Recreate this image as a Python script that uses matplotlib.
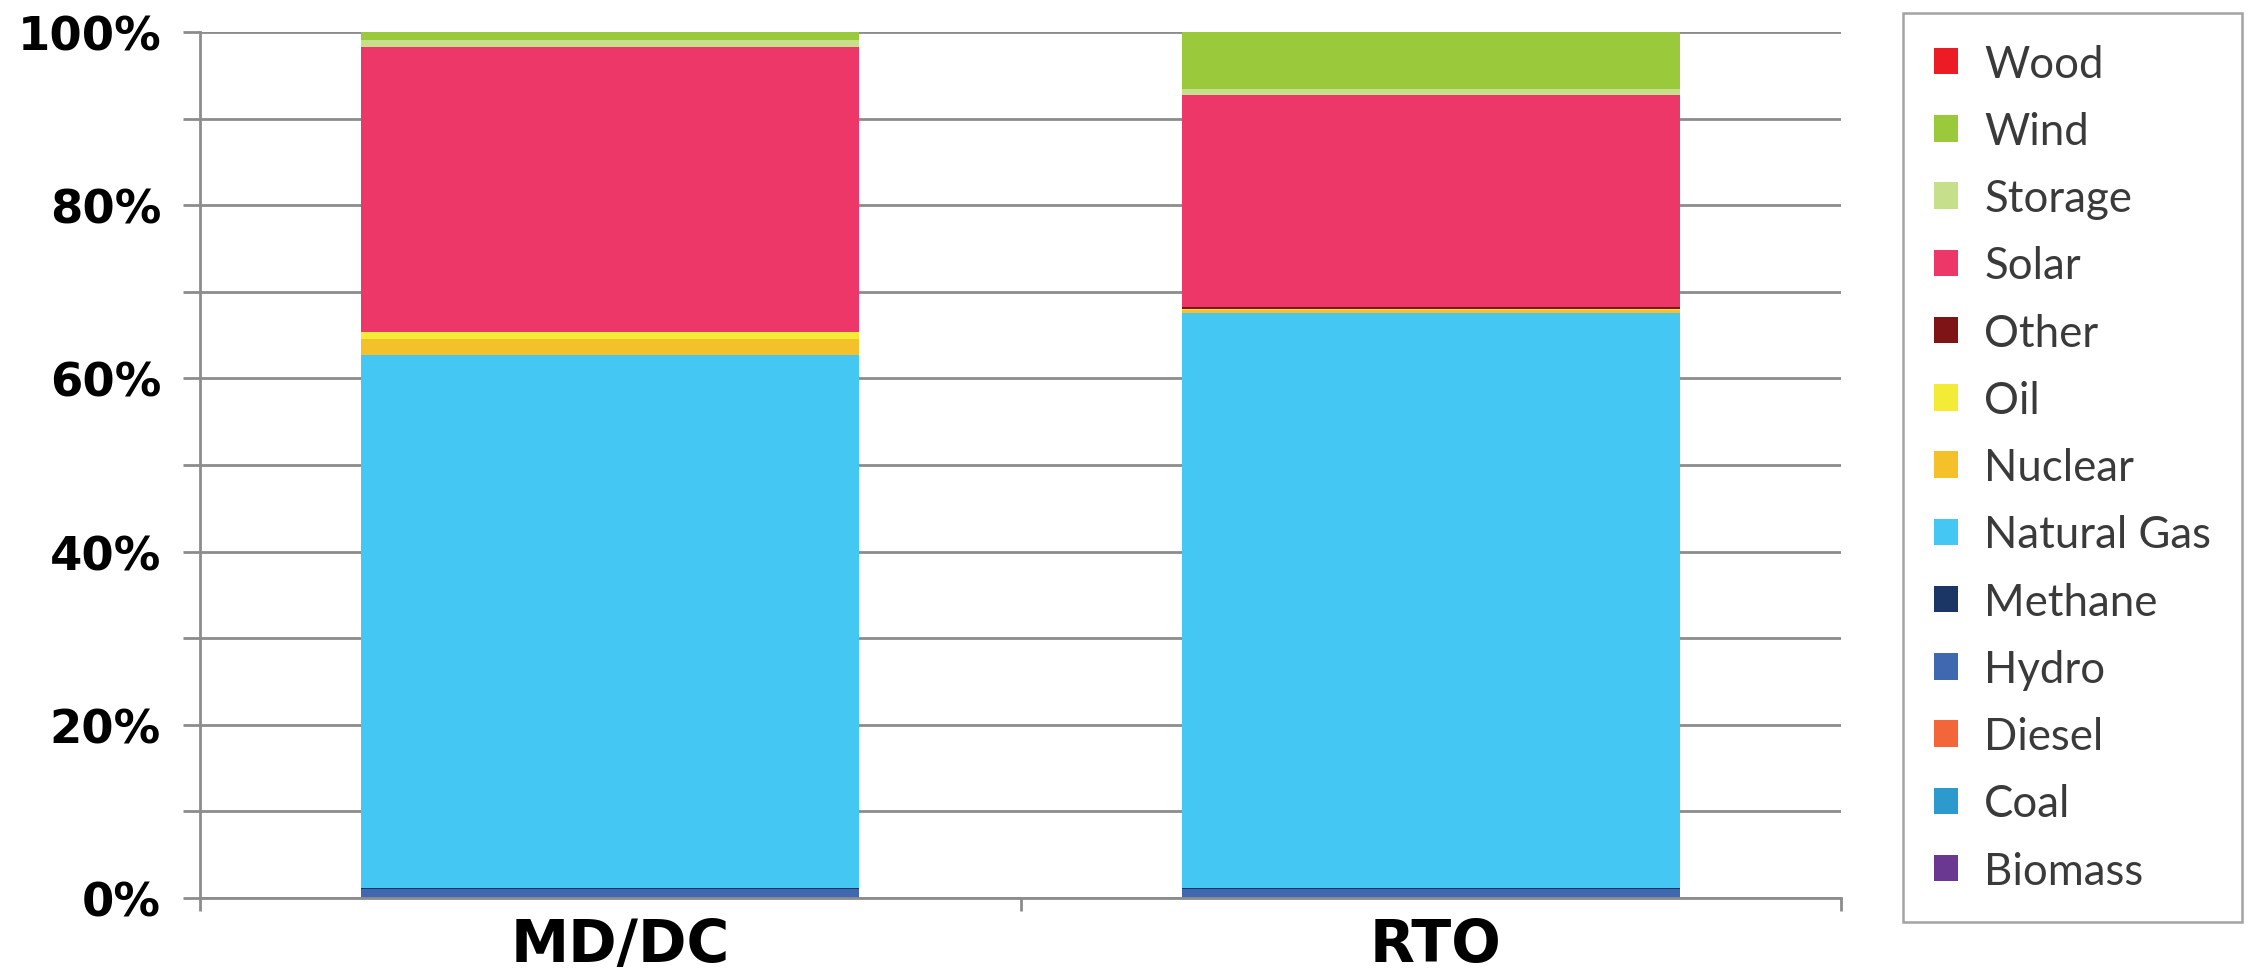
import matplotlib
matplotlib.use("Agg")
import matplotlib.pyplot as plt
from matplotlib.patches import Patch
import numpy as np

categories = ["MD/DC", "RTO"]
fuels = ["Biomass", "Coal", "Diesel", "Hydro", "Methane", "Natural Gas", "Nuclear",
         "Oil", "Other", "Solar", "Storage", "Wind", "Wood"]
colors = ["#6A3791", "#2D9ACD", "#F26639", "#3F68B1", "#1B3564", "#45C7F3", "#F5C12A",
          "#F4EB37", "#7F1416", "#EE3769", "#C5DF8A", "#9ACA3C", "#ED1C24"]
md_dc = [0.0, 0.0, 0.0, 1.05, 0.15, 61.5, 1.9, 0.8, 0.0, 32.9, 0.8, 0.9, 0.0]
rto = [0.0, 0.0, 0.0, 1.05, 0.15, 66.4, 0.3, 0.15, 0.15, 24.55, 0.65, 6.6, 0.0]
ytick_labels = ["0%", "20%", "40%", "60%", "80%", "100%"]

W, H = 2247, 970
fig = plt.figure(figsize=(W / 100, H / 100), dpi=100)
ax = fig.add_axes([200 / W, 1 - 899 / H, (1841 - 200) / W, (899 - 33) / H])

x = np.arange(len(categories))
data = np.array([md_dc, rto]).T
bottom = np.zeros(len(categories))
for name, col, vals in zip(fuels, colors, data):
    ax.bar(x, vals, bottom=bottom, width=0.607, color=col, edgecolor="none", zorder=3)
    bottom += vals

grey = "#8C8C8C"
ax.set_ylim(0, 100)
ax.set_xlim(-0.5, 1.5)
ax.set_yticks(np.arange(0, 101, 10))
ax.set_yticklabels([ytick_labels[j // 2] if j % 2 == 0 else "" for j in range(11)])
ax.yaxis.grid(True, color=grey, linewidth=2.0, zorder=0)
ax.set_xticks([-0.5, 0.5, 1.5])
ax.set_xticklabels([])
ax.tick_params(axis="y", length=12, width=2.0, color=grey, pad=16,
               labelsize=33.5)
ax.tick_params(axis="x", length=9, width=2.0, color=grey)
for lab in ax.get_yticklabels():
    lab.set_fontweight("bold")
    lab.set_family("DejaVu Sans")
for s in ["top", "right"]:
    ax.spines[s].set_visible(False)
for s in ["left", "bottom"]:
    ax.spines[s].set_color(grey)
    ax.spines[s].set_linewidth(2.0)
    ax.spines[s].set_zorder(4)

label_x = [0.012, 1.006]
for lx, cat in zip(label_x, categories):
    ax.text(lx, -2.1, cat, ha="center", va="top", fontsize=42,
            fontfamily="DejaVu Sans", fontweight="bold", color="#000000",
            transform=ax.transData, clip_on=False)

handles = [Patch(facecolor=c, edgecolor="none") for c in colors][::-1]
labels = fuels[::-1]
leg = fig.legend(handles, labels, loc="upper left",
                 bbox_to_anchor=(1903 / W, 1 - 14 / H), bbox_transform=fig.transFigure,
                 borderaxespad=0, frameon=True, fancybox=False,
                 prop={"family": "Lato", "size": 31.5},
                 handlelength=0.56, handleheight=0.56, handletextpad=0.6,
                 labelspacing=0.6, borderpad=0.7)
leg.get_frame().set_edgecolor(grey)
leg.get_frame().set_linewidth(1.8)
for t in leg.get_texts():
    t.set_color("#3A3A3A")

fig.savefig("out.png", dpi=100)
